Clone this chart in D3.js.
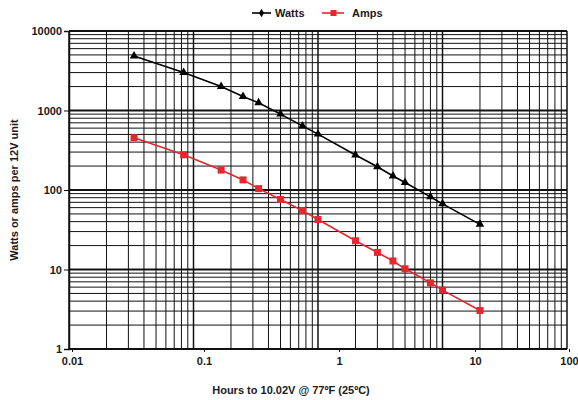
<!DOCTYPE html>
<html>
<head>
<meta charset="utf-8">
<script src="https://cdn.jsdelivr.net/npm/d3@7"></script>
<style>
  html, body { margin: 0; padding: 0; background: #fff; }
  svg { display: block; }
  text { font-family: "Liberation Sans", Arial, Helvetica, sans-serif; font-weight: bold; fill: #1a1a1a; }
</style>
</head>
<body>
<svg id="chart" width="578" height="400"></svg>
<script>
// ---- data ----
const hours = [0.0333, 0.0833, 0.1667, 0.25, 0.3333, 0.5, 0.75, 1, 2, 3, 4, 5, 8, 10, 20];
const watts = [4850, 3000, 2000, 1500, 1250, 900, 640, 505, 275, 196, 150, 124, 82, 67, 37];
const amps  = [455, 277, 178, 134, 104, 76, 55, 42.5, 23, 16.4, 12.8, 10.2, 6.8, 5.5, 3.05];
const seriesNames = ["Watts", "Amps"];
const xTickLabels = [0.01, 0.1, 1, 10, 100];
const yTickLabels = [1, 10, 100, 1000, 10000];
const xTitle = "Hours to 10.02V @ 77ºF (25ºC)";
const yTitle = "Watts or amps per 12V unit";

const W = 578, H = 400;
const plot = { left: 69, right: 567, top: 31, bottom: 349 };
const svg = d3.select("#chart");

const x = d3.scaleLog().domain([0.01, 100]).range([plot.left, plot.right]);
const y = d3.scaleLog().domain([1, 10000]).range([plot.bottom, plot.top]);
// tick labels in the reference sit on their own (stretched) spacing
const xLab = d3.scaleLog().domain(xTickLabels).range([72, 204, 339, 475, 569]);

// ---- grid ----
const grid = svg.append("g");
const minorX = [], minorY = [];
for (let e = -2; e < 2; e++) for (let m = 1; m < 10; m++) minorX.push(m * Math.pow(10, e));
minorX.push(100);
for (let e = 0; e < 4; e++) for (let m = 1; m < 10; m++) minorY.push(m * Math.pow(10, e));
minorY.push(10000);
const isMajor = v => Math.abs(Math.log10(v) - Math.round(Math.log10(v))) < 1e-9;

grid.selectAll("line.vx").data(minorX).enter().append("line")
  .attr("x1", d => x(d)).attr("x2", d => x(d))
  .attr("y1", plot.top).attr("y2", plot.bottom)
  .attr("stroke", "#111").attr("stroke-width", d => isMajor(d) ? 1.5 : 1);
grid.selectAll("line.hy").data(minorY).enter().append("line")
  .attr("y1", d => y(d)).attr("y2", d => y(d))
  .attr("x1", plot.left).attr("x2", plot.right)
  .attr("stroke", "#111").attr("stroke-width", d => isMajor(d) ? 1.8 : 1);

// ---- axes ----
const yAxis = svg.append("g").attr("transform", `translate(${plot.left},0)`)
  .call(d3.axisLeft(y).tickValues(yTickLabels).tickFormat(d => String(d)).tickSize(5).tickPadding(2));
yAxis.select(".domain").attr("stroke", "#111").attr("stroke-width", 1.5);
yAxis.selectAll(".tick line").attr("stroke", "#111");
yAxis.selectAll("text").style("font-size", "11px").attr("fill", "#1a1a1a");

const xAxis = svg.append("g").attr("transform", `translate(0,${plot.bottom})`)
  .call(d3.axisBottom(xLab).tickValues(xTickLabels).tickFormat(d => String(d)).tickSize(3).tickPadding(5));
xAxis.select(".domain").remove();
xAxis.selectAll(".tick line").attr("stroke", "#111");
xAxis.selectAll("text").style("font-size", "11px").attr("fill", "#1a1a1a");

svg.append("line").attr("x1", plot.left).attr("x2", plot.right)
  .attr("y1", plot.bottom).attr("y2", plot.bottom)
  .attr("stroke", "#111").attr("stroke-width", 1.5);

// ---- series ----
const red = "#e4282e";
const line = d3.line().x(d => x(d[0])).y(d => y(d[1]));
const wData = hours.map((h, i) => [h, watts[i]]);
const aData = hours.map((h, i) => [h, amps[i]]);

svg.append("path").datum(wData).attr("d", line)
  .attr("fill", "none").attr("stroke", "#000").attr("stroke-width", 1.6);
svg.append("path").datum(aData).attr("d", line)
  .attr("fill", "none").attr("stroke", red).attr("stroke-width", 1.6);

const tri = d3.symbol().type(d3.symbolTriangle).size(32);
svg.selectAll("path.wm").data(wData).enter().append("path")
  .attr("d", tri).attr("fill", "#000")
  .attr("transform", d => `translate(${x(d[0])},${y(d[1])})`);
svg.selectAll("rect.am").data(aData).enter().append("rect")
  .attr("x", d => x(d[0]) - 3.5).attr("y", d => y(d[1]) - 3.5)
  .attr("width", 7).attr("height", 7).attr("fill", red);

// ---- legend ----
const lg = svg.append("g").attr("transform", "translate(0,13)");
lg.append("line").attr("x1", 252).attr("x2", 271).attr("y1", 0).attr("y2", 0).attr("stroke", "#000").attr("stroke-width", 1.6);
lg.append("path").attr("d", d3.symbol().type(d3.symbolDiamond).size(22)).attr("transform", "translate(261.5,0)").attr("fill", "#000");
lg.append("text").attr("x", 275).attr("y", 4).style("font-size", "11px").text(seriesNames[0]);
lg.append("line").attr("x1", 322).attr("x2", 344).attr("y1", 0).attr("y2", 0).attr("stroke", red).attr("stroke-width", 1.6);
lg.append("rect").attr("x", 330.5).attr("y", -3).attr("width", 6).attr("height", 6).attr("fill", red);
lg.append("text").attr("x", 352).attr("y", 4).style("font-size", "11px").text(seriesNames[1]);

// ---- titles ----
svg.append("text").attr("x", 291).attr("y", 394).attr("text-anchor", "middle")
  .style("font-size", "11px").text(xTitle);
svg.append("text").attr("transform", "translate(18,190) rotate(-90)").attr("text-anchor", "middle")
  .style("font-size", "11px").text(yTitle);
</script>
</body>
</html>
